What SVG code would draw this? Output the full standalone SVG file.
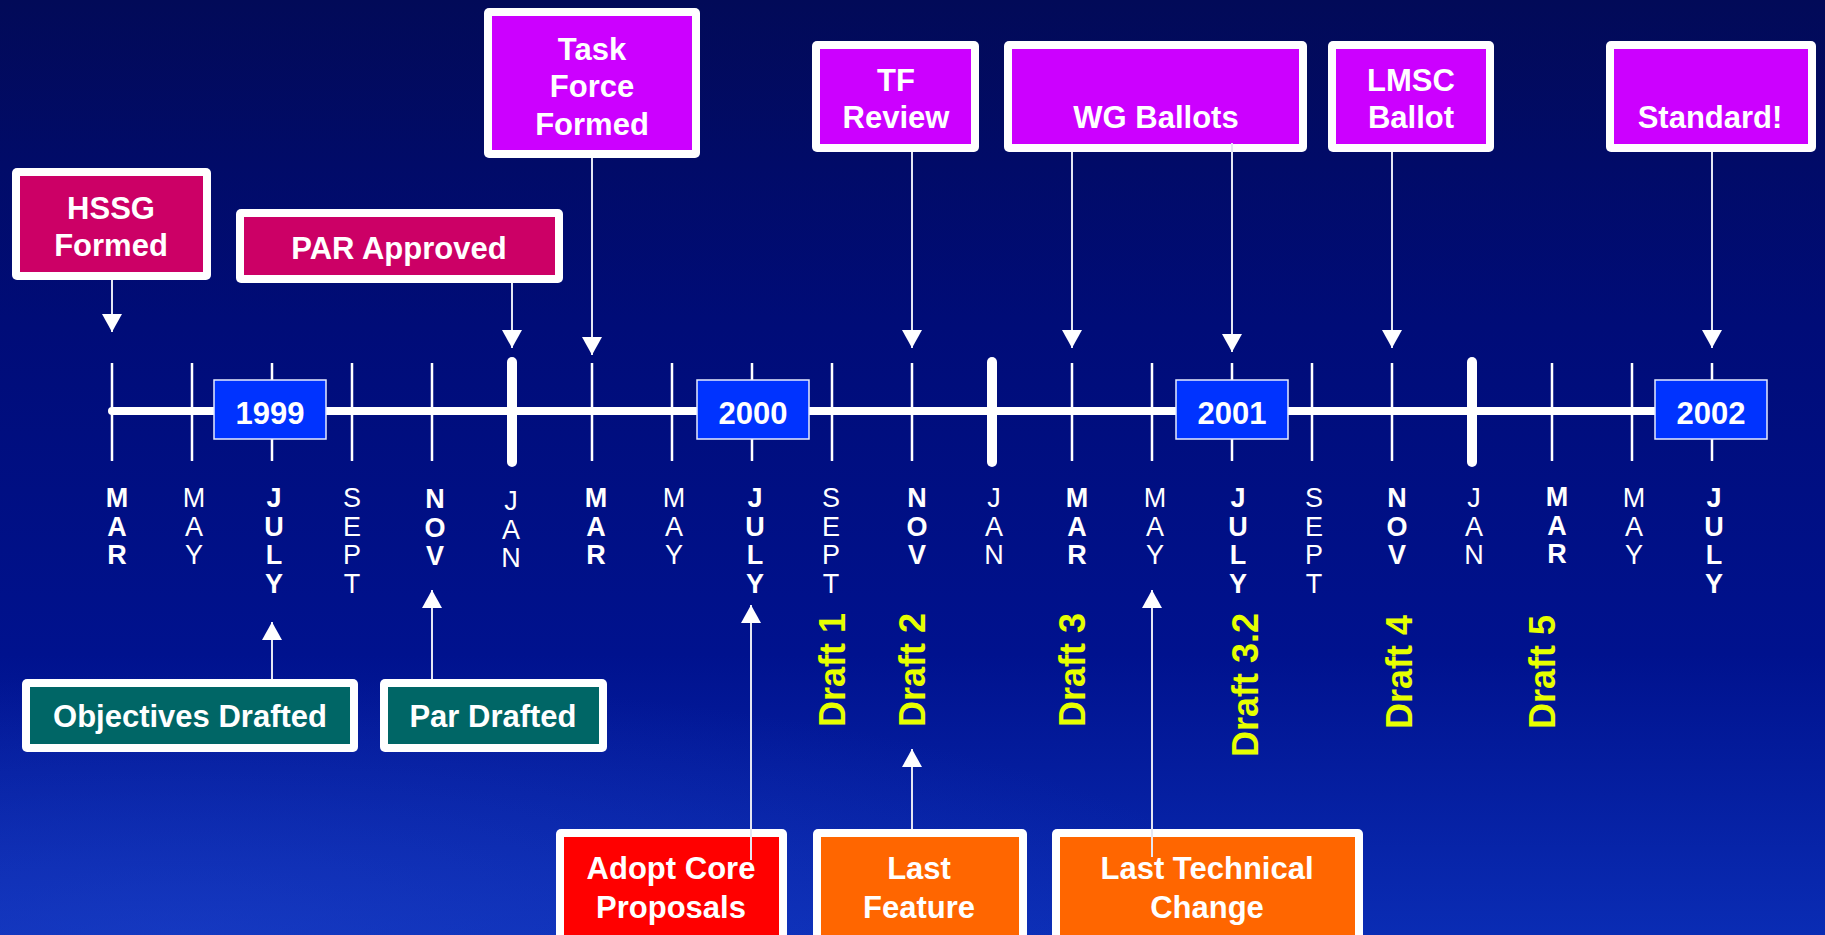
<svg xmlns="http://www.w3.org/2000/svg" width="1825" height="935" viewBox="0 0 1825 935">
<defs>
<linearGradient id="bg" x1="0" y1="0" x2="0" y2="1">
<stop offset="0" stop-color="#020a58"/>
<stop offset="0.35" stop-color="#000c78"/>
<stop offset="0.7" stop-color="#00128e"/>
<stop offset="1" stop-color="#0a2cb4"/>
</linearGradient>
<radialGradient id="glow" cx="0.1" cy="1" r="0.6">
<stop offset="0" stop-color="#2348d0" stop-opacity="0.45"/>
<stop offset="1" stop-color="#2348d0" stop-opacity="0"/>
</radialGradient>
<marker id="arr" markerUnits="userSpaceOnUse" markerWidth="20" markerHeight="22" refX="18" refY="10" orient="auto">
<path d="M0,0 L18,10 L0,20 z" fill="#ffffff"/>
</marker>
<style>
.frame{fill:#ffffff;}
.t{font-family:"Liberation Sans",Arial,sans-serif;font-weight:bold;font-size:31px;fill:#ffffff;text-anchor:middle;}
.yr{fill:#0033ff;stroke:#e6ecff;stroke-width:1.5;}
.mb{font-family:"Liberation Sans",Arial,sans-serif;font-weight:bold;font-size:27px;fill:#ffffff;text-anchor:middle;}
.mr{font-family:"Liberation Sans",Arial,sans-serif;font-weight:normal;font-size:27px;fill:#ffffff;text-anchor:middle;}
.dr{font-family:"Liberation Sans",Arial,sans-serif;font-weight:bold;font-size:36px;fill:#e6ff00;}
.tick{stroke:#ffffff;stroke-width:2.5;}
.thick{stroke:#ffffff;stroke-width:10;stroke-linecap:round;}
.con{stroke:#e4e6f2;stroke-width:2;fill:none;}
.mag{fill:#cc00ff;}
.crim{fill:#cc0066;}
.teal{fill:#006666;}
.red{fill:#ff0000;}
.org{fill:#ff6600;}
</style>
</defs>
<rect x="0" y="0" width="1825" height="935" fill="url(#bg)"/>
<rect x="0" y="500" width="1825" height="435" fill="url(#glow)"/>

<g id="timeline">
<line x1="112" y1="411" x2="1712" y2="411" stroke="#ffffff" stroke-width="8" stroke-linecap="round"/>
<g class="ticks">
<line class="tick" x1="112" y1="363" x2="112" y2="461"/>
<line class="tick" x1="192" y1="363" x2="192" y2="461"/>
<line class="tick" x1="272" y1="363" x2="272" y2="461"/>
<line class="tick" x1="352" y1="363" x2="352" y2="461"/>
<line class="tick" x1="432" y1="363" x2="432" y2="461"/>
<line class="thick" x1="512" y1="362" x2="512" y2="462"/>
<line class="tick" x1="592" y1="363" x2="592" y2="461"/>
<line class="tick" x1="672" y1="363" x2="672" y2="461"/>
<line class="tick" x1="752" y1="363" x2="752" y2="461"/>
<line class="tick" x1="832" y1="363" x2="832" y2="461"/>
<line class="tick" x1="912" y1="363" x2="912" y2="461"/>
<line class="thick" x1="992" y1="362" x2="992" y2="462"/>
<line class="tick" x1="1072" y1="363" x2="1072" y2="461"/>
<line class="tick" x1="1152" y1="363" x2="1152" y2="461"/>
<line class="tick" x1="1232" y1="363" x2="1232" y2="461"/>
<line class="tick" x1="1312" y1="363" x2="1312" y2="461"/>
<line class="tick" x1="1392" y1="363" x2="1392" y2="461"/>
<line class="thick" x1="1472" y1="362" x2="1472" y2="462"/>
<line class="tick" x1="1552" y1="363" x2="1552" y2="461"/>
<line class="tick" x1="1632" y1="363" x2="1632" y2="461"/>
<line class="tick" x1="1712" y1="363" x2="1712" y2="461"/>
</g>
</g>

<g id="year-1999"><rect class="yr" x="214" y="380" width="112" height="59"/><text class="t" x="270" y="424">1999</text></g>
<g id="year-2000"><rect class="yr" x="697" y="380" width="112" height="59"/><text class="t" x="753" y="424">2000</text></g>
<g id="year-2001"><rect class="yr" x="1176" y="380" width="112" height="59"/><text class="t" x="1232" y="424">2001</text></g>
<g id="year-2002"><rect class="yr" x="1655" y="380" width="112" height="59"/><text class="t" x="1711" y="424">2002</text></g>

<g id="months">
<text class="mb"><tspan x="117" y="507">M</tspan><tspan x="117" y="535.5">A</tspan><tspan x="117" y="564">R</tspan></text>
<text class="mr"><tspan x="194" y="507">M</tspan><tspan x="194" y="535.5">A</tspan><tspan x="194" y="564">Y</tspan></text>
<text class="mb"><tspan x="274" y="507">J</tspan><tspan x="274" y="535.5">U</tspan><tspan x="274" y="564">L</tspan><tspan x="274" y="592.5">Y</tspan></text>
<text class="mr"><tspan x="352" y="507">S</tspan><tspan x="352" y="535.5">E</tspan><tspan x="352" y="564">P</tspan><tspan x="352" y="592.5">T</tspan></text>
<text class="mb"><tspan x="435" y="508">N</tspan><tspan x="435" y="536.5">O</tspan><tspan x="435" y="565">V</tspan></text>
<text class="mr"><tspan x="511" y="510">J</tspan><tspan x="511" y="538.5">A</tspan><tspan x="511" y="567">N</tspan></text>
<text class="mb"><tspan x="596" y="507">M</tspan><tspan x="596" y="535.5">A</tspan><tspan x="596" y="564">R</tspan></text>
<text class="mr"><tspan x="674" y="507">M</tspan><tspan x="674" y="535.5">A</tspan><tspan x="674" y="564">Y</tspan></text>
<text class="mb"><tspan x="755" y="507">J</tspan><tspan x="755" y="535.5">U</tspan><tspan x="755" y="564">L</tspan><tspan x="755" y="592.5">Y</tspan></text>
<text class="mr"><tspan x="831" y="507">S</tspan><tspan x="831" y="535.5">E</tspan><tspan x="831" y="564">P</tspan><tspan x="831" y="592.5">T</tspan></text>
<text class="mb"><tspan x="917" y="507">N</tspan><tspan x="917" y="535.5">O</tspan><tspan x="917" y="564">V</tspan></text>
<text class="mr"><tspan x="994" y="507">J</tspan><tspan x="994" y="535.5">A</tspan><tspan x="994" y="564">N</tspan></text>
<text class="mb"><tspan x="1077" y="507">M</tspan><tspan x="1077" y="535.5">A</tspan><tspan x="1077" y="564">R</tspan></text>
<text class="mr"><tspan x="1155" y="507">M</tspan><tspan x="1155" y="535.5">A</tspan><tspan x="1155" y="564">Y</tspan></text>
<text class="mb"><tspan x="1238" y="507">J</tspan><tspan x="1238" y="535.5">U</tspan><tspan x="1238" y="564">L</tspan><tspan x="1238" y="592.5">Y</tspan></text>
<text class="mr"><tspan x="1314" y="507">S</tspan><tspan x="1314" y="535.5">E</tspan><tspan x="1314" y="564">P</tspan><tspan x="1314" y="592.5">T</tspan></text>
<text class="mb"><tspan x="1397" y="507">N</tspan><tspan x="1397" y="535.5">O</tspan><tspan x="1397" y="564">V</tspan></text>
<text class="mr"><tspan x="1474" y="507">J</tspan><tspan x="1474" y="535.5">A</tspan><tspan x="1474" y="564">N</tspan></text>
<text class="mb"><tspan x="1557" y="506">M</tspan><tspan x="1557" y="534.5">A</tspan><tspan x="1557" y="563">R</tspan></text>
<text class="mr"><tspan x="1634" y="507">M</tspan><tspan x="1634" y="535.5">A</tspan><tspan x="1634" y="564">Y</tspan></text>
<text class="mb"><tspan x="1714" y="507">J</tspan><tspan x="1714" y="535.5">U</tspan><tspan x="1714" y="564">L</tspan><tspan x="1714" y="592.5">Y</tspan></text>
</g>

<g id="drafts">
<text class="dr" transform="translate(845,727) rotate(-90)">Draft 1</text>
<text class="dr" transform="translate(925,727) rotate(-90)">Draft 2</text>
<text class="dr" transform="translate(1085,727) rotate(-90)">Draft 3</text>
<text class="dr" transform="translate(1258,757) rotate(-90)">Draft 3.2</text>
<text class="dr" transform="translate(1412,729) rotate(-90)">Draft 4</text>
<text class="dr" transform="translate(1555,729) rotate(-90)">Draft 5</text>
</g>

<g id="hssg-formed"><rect class="frame" x="12" y="168" width="199" height="112" rx="5"/><rect class="crim" x="20" y="176" width="183" height="96"/><text class="t" x="111" y="219">HSSG</text><text class="t" x="111" y="256">Formed</text></g>
<g id="par-approved"><rect class="frame" x="236" y="209" width="327" height="74" rx="5"/><rect class="crim" x="244" y="217" width="311" height="58"/><text class="t" x="399" y="259">PAR Approved</text></g>
<g id="task-force-formed"><rect class="frame" x="484" y="8" width="216" height="150" rx="5"/><rect class="mag" x="492" y="16" width="200" height="134"/><text class="t" x="592" y="60">Task</text><text class="t" x="592" y="97">Force</text><text class="t" x="592" y="135">Formed</text></g>
<g id="tf-review"><rect class="frame" x="812" y="41" width="167" height="111" rx="5"/><rect class="mag" x="820" y="49" width="151" height="95"/><text class="t" x="896" y="91">TF</text><text class="t" x="896" y="128">Review</text></g>
<g id="wg-ballots"><rect class="frame" x="1004" y="41" width="303" height="111" rx="5"/><rect class="mag" x="1012" y="49" width="287" height="95"/><text class="t" x="1156" y="128">WG Ballots</text></g>
<g id="lmsc-ballot"><rect class="frame" x="1328" y="41" width="166" height="111" rx="5"/><rect class="mag" x="1336" y="49" width="150" height="95"/><text class="t" x="1411" y="91">LMSC</text><text class="t" x="1411" y="128">Ballot</text></g>
<g id="standard"><rect class="frame" x="1606" y="41" width="210" height="111" rx="5"/><rect class="mag" x="1614" y="49" width="194" height="95"/><text class="t" x="1710" y="128">Standard!</text></g>

<g id="objectives-drafted"><rect class="frame" x="22" y="679" width="336" height="73" rx="5"/><rect class="teal" x="30" y="687" width="320" height="57"/><text class="t" x="190" y="727">Objectives Drafted</text></g>
<g id="par-drafted"><rect class="frame" x="380" y="679" width="227" height="73" rx="5"/><rect class="teal" x="388" y="687" width="211" height="57"/><text class="t" x="493" y="727">Par Drafted</text></g>
<g id="adopt-core-proposals"><rect class="frame" x="556" y="829" width="231" height="120" rx="5"/><rect class="red" x="564" y="837" width="215" height="112"/><text class="t" x="671" y="879">Adopt Core</text><text class="t" x="671" y="918">Proposals</text></g>
<g id="last-feature"><rect class="frame" x="813" y="829" width="214" height="120" rx="5"/><rect class="org" x="821" y="837" width="198" height="112"/><text class="t" x="919" y="879">Last</text><text class="t" x="919" y="918">Feature</text></g>
<g id="last-technical-change"><rect class="frame" x="1052" y="829" width="311" height="120" rx="5"/><rect class="org" x="1060" y="837" width="295" height="112"/><text class="t" x="1207" y="879">Last Technical</text><text class="t" x="1207" y="918">Change</text></g>

<g id="connectors">
<line class="con" x1="112" y1="280" x2="112" y2="332" marker-end="url(#arr)"/>
<line class="con" x1="512" y1="283" x2="512" y2="348" marker-end="url(#arr)"/>
<line class="con" x1="592" y1="158" x2="592" y2="355" marker-end="url(#arr)"/>
<line class="con" x1="912" y1="152" x2="912" y2="348" marker-end="url(#arr)"/>
<line class="con" x1="1072" y1="152" x2="1072" y2="348" marker-end="url(#arr)"/>
<line class="con" x1="1232" y1="143" x2="1232" y2="352" marker-end="url(#arr)"/>
<line class="con" x1="1392" y1="152" x2="1392" y2="348" marker-end="url(#arr)"/>
<line class="con" x1="1712" y1="152" x2="1712" y2="348" marker-end="url(#arr)"/>
<line class="con" x1="272" y1="679" x2="272" y2="622" marker-end="url(#arr)"/>
<line class="con" x1="432" y1="679" x2="432" y2="590" marker-end="url(#arr)"/>
<line class="con" x1="751" y1="860" x2="751" y2="605" marker-end="url(#arr)"/>
<line class="con" x1="912" y1="829" x2="912" y2="749" marker-end="url(#arr)"/>
<line class="con" x1="1152" y1="857" x2="1152" y2="590" marker-end="url(#arr)"/>
</g>
</svg>
